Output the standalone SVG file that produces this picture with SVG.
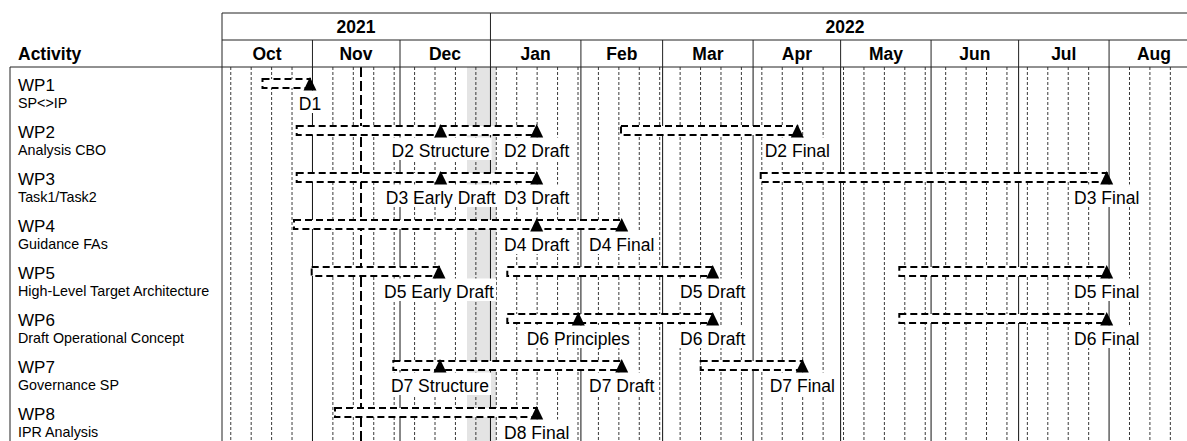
<svg xmlns="http://www.w3.org/2000/svg" width="1187" height="441" viewBox="0 0 1187 441">
<style>
  text { font-family: "Liberation Sans", Arial, sans-serif; fill: #000; }
  .hdr { font-size: 17.5px; font-weight: bold; text-anchor: middle; }
  .act { font-size: 17.5px; font-weight: bold; }
  .wp { font-size: 17px; }
  .sub { font-size: 14.3px; }
  .ms { font-size: 17.5px; text-anchor: middle; }
  .frame { stroke: #222; stroke-width: 1; fill: none; }
  .wk { stroke: #222; stroke-width: 0.9; stroke-dasharray: 3 2; fill: none; }
  .mo { stroke: #111; stroke-width: 1; fill: none; }
  .today { stroke: #000; stroke-width: 2; stroke-dasharray: 10 4; fill: none; }
  .bar { fill: #fff; stroke: #000; stroke-width: 2; stroke-dasharray: 7 4; }
  .lbl { fill: #fff; stroke: none; }
  .tri { fill: #000; }
</style>
<defs>
  <polygon id="tri" points="0,-2 6.5,11.5 -6.5,11.5"/>
</defs>
<rect x="0" y="0" width="1187" height="441" fill="#fff"/>

<!-- holiday band -->
<rect id="holiday" x="467" y="67" width="29.3" height="374" fill="#e4e4e4"/>

<!-- grid: weekly dashed lines -->
<g id="weeks" class="wk">
  <path d="M230.75 67V441M251.18 67V441M271.61 67V441M292.03 67V441M332.88 67V441M353.31 67V441M373.74 67V441M394.16 67V441M414.59 67V441M435.01 67V441M455.44 67V441M475.87 67V441M496.29 67V441M516.72 67V441M537.14 67V441M557.57 67V441M578 67V441M598.42 67V441M618.85 67V441M639.27 67V441M659.7 67V441M680.13 67V441M700.55 67V441M720.98 67V441M741.4 67V441M761.83 67V441M782.26 67V441M802.68 67V441M823.11 67V441M843.53 67V441M863.96 67V441M884.39 67V441M904.81 67V441M925.24 67V441M945.66 67V441M966.09 67V441M986.52 67V441M1006.94 67V441M1027.37 67V441M1047.79 67V441M1068.22 67V441M1088.65 67V441M1129.5 67V441M1149.92 67V441M1170.35 67V441"/>
</g>
<!-- grid: month lines in body -->
<g id="months-body" class="mo">
  <path d="M312.46 67V441M400 67V441M490.46 67V441M580.91 67V441M662.62 67V441M753.08 67V441M840.62 67V441M931.07 67V441M1018.61 67V441M1109.07 67V441"/>
</g>
<!-- today line -->
<path id="today" class="today" d="M361 67V441"/>

<!-- header -->
<g id="header">
  <path class="frame" d="M222 13H1187M222 40H1187M10 67H1187M222 13V441M10 67V441M490.46 13V67M312.46 40V67M400 40V67M580.91 40V67M662.62 40V67M753.08 40V67M840.62 40V67M931.07 40V67M1018.61 40V67M1109.07 40V67"/>
  <text class="act" x="18" y="60">Activity</text>
  <text class="hdr" x="356" y="32.5">2021</text>
  <text class="hdr" x="845" y="32.5">2022</text>
  <text class="hdr" x="267" y="60">Oct</text>
  <text class="hdr" x="356" y="60">Nov</text>
  <text class="hdr" x="445" y="60">Dec</text>
  <text class="hdr" x="535.7" y="60">Jan</text>
  <text class="hdr" x="621.8" y="60">Feb</text>
  <text class="hdr" x="707.9" y="60">Mar</text>
  <text class="hdr" x="796.9" y="60">Apr</text>
  <text class="hdr" x="885.9" y="60">May</text>
  <text class="hdr" x="974.8" y="60">Jun</text>
  <text class="hdr" x="1063.8" y="60">Jul</text>
  <text class="hdr" x="1154" y="60">Aug</text>
</g>

<!-- WP1 -->
<g id="wp1" transform="translate(0,0)">
  <text class="wp" x="18" y="90.7">WP1</text>
  <text class="sub" x="18" y="108.3">SP&lt;&gt;IP</text>
  <rect class="bar" x="262.5" y="79" width="47.5" height="9"/>
  <rect class="lbl" x="297" y="90.5" width="26" height="22.5"/>
  <text class="ms" x="310" y="109.5">D1</text>
  <use href="#tri" class="tri" x="310" y="79"/>
</g>

<!-- WP2 -->
<g id="wp2">
  <text class="wp" x="18" y="137.7">WP2</text>
  <text class="sub" x="18" y="155.3">Analysis CBO</text>
  <rect class="bar" x="296.7" y="126" width="240" height="9"/>
  <rect class="bar" x="621" y="126" width="176.3" height="9"/>
  <rect class="lbl" x="389.6" y="137.5" width="102" height="22.5"/>
  <text class="ms" x="440.7" y="156.5">D2 Structure</text>
  <rect class="lbl" x="502.1" y="137.5" width="69.2" height="22.5"/>
  <text class="ms" x="536.7" y="156.5">D2 Draft</text>
  <rect class="lbl" x="762.7" y="137.5" width="69.2" height="22.5"/>
  <text class="ms" x="797.3" y="156.5">D2 Final</text>
  <use href="#tri" class="tri" x="440.7" y="126"/>
  <use href="#tri" class="tri" x="536.7" y="126"/>
  <use href="#tri" class="tri" x="797.3" y="126"/>
</g>

<!-- WP3 -->
<g id="wp3">
  <text class="wp" x="18" y="184.7">WP3</text>
  <text class="sub" x="18" y="202.3">Task1/Task2</text>
  <rect class="bar" x="296.7" y="173" width="240" height="9"/>
  <rect class="bar" x="760.7" y="173" width="346" height="9"/>
  <rect class="lbl" x="383.8" y="184.5" width="113.9" height="22.5"/>
  <text class="ms" x="440.7" y="203.5">D3 Early Draft</text>
  <rect class="lbl" x="502.1" y="184.5" width="69.2" height="22.5"/>
  <text class="ms" x="536.7" y="203.5">D3 Draft</text>
  <rect class="lbl" x="1072.1" y="184.5" width="69.2" height="22.5"/>
  <text class="ms" x="1106.7" y="203.5">D3 Final</text>
  <use href="#tri" class="tri" x="440.7" y="173"/>
  <use href="#tri" class="tri" x="536.7" y="173"/>
  <use href="#tri" class="tri" x="1106.7" y="173"/>
</g>

<!-- WP4 -->
<g id="wp4">
  <text class="wp" x="18" y="231.7">WP4</text>
  <text class="sub" x="18" y="249.3">Guidance FAs</text>
  <rect class="bar" x="294" y="220" width="327.7" height="9"/>
  <rect class="lbl" x="502.1" y="231.5" width="69.2" height="22.5"/>
  <text class="ms" x="536.7" y="250.5">D4 Draft</text>
  <rect class="lbl" x="587.1" y="231.5" width="69.2" height="22.5"/>
  <text class="ms" x="621.7" y="250.5">D4 Final</text>
  <use href="#tri" class="tri" x="536.7" y="220"/>
  <use href="#tri" class="tri" x="621.7" y="220"/>
</g>

<!-- WP5 -->
<g id="wp5">
  <text class="wp" x="18" y="278.7">WP5</text>
  <text class="sub" x="18" y="296.3">High-Level Target Architecture</text>
  <rect class="bar" x="311.7" y="267" width="127.3" height="9"/>
  <rect class="bar" x="507.3" y="267" width="205.4" height="9"/>
  <rect class="bar" x="899.3" y="267" width="207.4" height="9"/>
  <rect class="lbl" x="382.1" y="278.5" width="113.9" height="22.5"/>
  <text class="ms" x="439" y="297.5">D5 Early Draft</text>
  <rect class="lbl" x="678.1" y="278.5" width="69.2" height="22.5"/>
  <text class="ms" x="712.7" y="297.5">D5 Draft</text>
  <rect class="lbl" x="1072.1" y="278.5" width="69.2" height="22.5"/>
  <text class="ms" x="1106.7" y="297.5">D5 Final</text>
  <use href="#tri" class="tri" x="439" y="267"/>
  <use href="#tri" class="tri" x="712.7" y="267"/>
  <use href="#tri" class="tri" x="1106.7" y="267"/>
</g>

<!-- WP6 -->
<g id="wp6">
  <text class="wp" x="18" y="325.7">WP6</text>
  <text class="sub" x="18" y="343.3">Draft Operational Concept</text>
  <rect class="bar" x="507.3" y="314" width="205.4" height="9"/>
  <rect class="bar" x="899.3" y="314" width="207.4" height="9"/>
  <rect class="lbl" x="524.7" y="325.5" width="107.1" height="22.5"/>
  <text class="ms" x="578.3" y="344.5">D6 Principles</text>
  <rect class="lbl" x="678.1" y="325.5" width="69.2" height="22.5"/>
  <text class="ms" x="712.7" y="344.5">D6 Draft</text>
  <rect class="lbl" x="1072.1" y="325.5" width="69.2" height="22.5"/>
  <text class="ms" x="1106.7" y="344.5">D6 Final</text>
  <use href="#tri" class="tri" x="578.3" y="314"/>
  <use href="#tri" class="tri" x="712.7" y="314"/>
  <use href="#tri" class="tri" x="1106.7" y="314"/>
</g>

<!-- WP7 -->
<g id="wp7">
  <text class="wp" x="18" y="372.7">WP7</text>
  <text class="sub" x="18" y="390.3">Governance SP</text>
  <rect class="bar" x="393.3" y="361" width="228.4" height="9"/>
  <rect class="bar" x="700.7" y="361" width="101.6" height="9"/>
  <rect class="lbl" x="389" y="372.5" width="102" height="22.5"/>
  <text class="ms" x="440" y="391.5">D7 Structure</text>
  <rect class="lbl" x="587.1" y="372.5" width="69.2" height="22.5"/>
  <text class="ms" x="621.7" y="391.5">D7 Draft</text>
  <rect class="lbl" x="767.7" y="372.5" width="69.2" height="22.5"/>
  <text class="ms" x="802.3" y="391.5">D7 Final</text>
  <use href="#tri" class="tri" x="440" y="361"/>
  <use href="#tri" class="tri" x="621.7" y="361"/>
  <use href="#tri" class="tri" x="802.3" y="361"/>
</g>

<!-- WP8 -->
<g id="wp8">
  <text class="wp" x="18" y="419.7">WP8</text>
  <text class="sub" x="18" y="437.3">IPR Analysis</text>
  <rect class="bar" x="335" y="408" width="201.7" height="9"/>
  <rect class="lbl" x="502.1" y="419.5" width="69.2" height="22.5"/>
  <text class="ms" x="536.7" y="438.5">D8 Final</text>
  <use href="#tri" class="tri" x="536.7" y="408"/>
</g>
</svg>
